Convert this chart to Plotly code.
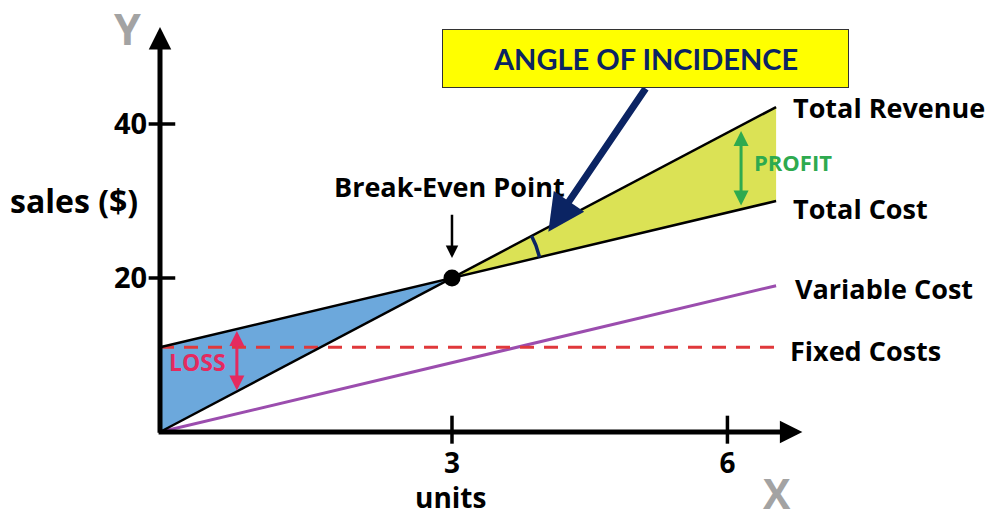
import numpy as np
import plotly.graph_objects as go

# break-even chart values (units, $)
units = [0, 3, 6.33]
revenue = [0, 20, 42.2]
total_cost = [11, 20, 30]
variable_cost = [0, 9, 19]
fixed_cost = [11, 11]

x_ticks = [3, 5.83]
x_ticklabels = ["3", "6"]
y_ticks = [20, 40]
y_ticklabels = ["20", "40"]

be_x, be_y = units[1], revenue[1]

FONT = "Open Sans"
NAVY = "#0B2463"

fig = go.Figure()

# loss area (blue) and profit area (yellow) between revenue and total cost
fig.add_trace(go.Scatter(
    x=units[:2] + units[:2][::-1],
    y=revenue[:2] + total_cost[:2][::-1],
    fill="toself", fillcolor="#6CA8DC",
    line=dict(width=0), mode="lines", hoverinfo="skip"
))
fig.add_trace(go.Scatter(
    x=units[1:] + units[1:][::-1],
    y=revenue[1:] + total_cost[1:][::-1],
    fill="toself", fillcolor="#DBE255",
    line=dict(width=0), mode="lines", hoverinfo="skip"
))

# lines
fig.add_trace(go.Scatter(x=units, y=variable_cost, mode="lines",
                         line=dict(color="#9B4DAE", width=3)))
fig.add_trace(go.Scatter(x=[units[0], units[-1]], y=fixed_cost, mode="lines",
                         line=dict(color="#E0383B", width=3, dash="14px,10px")))
fig.add_trace(go.Scatter(x=units, y=revenue, mode="lines",
                         line=dict(color="black", width=2.5)))
fig.add_trace(go.Scatter(x=units, y=total_cost, mode="lines",
                         line=dict(color="black", width=2.5)))

# angle arc at break-even point (pixel-space circle, radius ~90px)
sx, sy = 97.33, 7.7  # px per unit on each axis
a1 = np.arctan2((revenue[2] - be_y) * sy, (units[2] - be_x) * sx)
a2 = np.arctan2((total_cost[2] - be_y) * sy, (units[2] - be_x) * sx)
t = np.linspace(a2, a1, 20)
fig.add_trace(go.Scatter(x=be_x + 90 * np.cos(t) / sx, y=be_y + 90 * np.sin(t) / sy,
                         mode="lines", line=dict(color=NAVY, width=3.5)))

# break-even dot
fig.add_trace(go.Scatter(x=[be_x], y=[be_y], mode="markers",
                         marker=dict(color="black", size=17)))

# axis tick marks crossing the axes
fig.add_trace(go.Scatter(x=[0.02] * len(y_ticks), y=y_ticks, mode="markers",
                         marker=dict(symbol="line-ew", size=19,
                                     line=dict(color="black", width=3.5))))
fig.add_trace(go.Scatter(x=x_ticks, y=[0.3] * len(x_ticks), mode="markers",
                         marker=dict(symbol="line-ns", size=20,
                                     line=dict(color="black", width=3.5))))

anns = []

# axis arrows
anns.append(dict(x=0, y=52.6, ax=0, ay=-0.3, xref="x", yref="y", axref="x", ayref="y",
                 showarrow=True, arrowhead=2, arrowsize=0.9, arrowwidth=5,
                 arrowcolor="black", text=""))
anns.append(dict(x=6.6, y=0, ax=-0.03, ay=0, xref="x", yref="y", axref="x", ayref="y",
                 showarrow=True, arrowhead=2, arrowsize=0.9, arrowwidth=5,
                 arrowcolor="black", text=""))


def label(text, x, y, size=27, color="black", xanchor="left", **kw):
    anns.append(dict(text=text, x=x, y=y, xref="x", yref="y", showarrow=False,
                     xanchor=xanchor, yanchor="middle",
                     font=dict(family=FONT, size=size, color=color, weight="bold"), **kw))


label("Total Revenue", 6.48, 42.2)
label("Total Cost", 6.48, 29.0)
label("Variable Cost", 6.5, 18.7)
label("Fixed Costs", 6.45, 10.6)
label("Break-Even Point", 2.97, 31.9, size=27, xanchor="center")
label("sales ($)", -0.88, 30.1, size=32, xanchor="center")
label("units", 2.98, -8.4, size=28, xanchor="center")
label("Y", -0.33, 52.4, size=43, color="#A3A3A3", xanchor="center")
label("X", 6.34, -7.9, size=41, color="#A3A3A3", xanchor="center")
label("PROFIT", 6.08, 35.1, size=22, color="#2EAA4F")
label("LOSS", 0.07, 9.1, size=23, color="#E42A5F")

# break-even pointer
anns.append(dict(x=3, y=22.6, ax=3, ay=28.4, xref="x", yref="y", axref="x", ayref="y",
                 showarrow=True, arrowhead=2, arrowsize=1, arrowwidth=2.5,
                 arrowcolor="black", text=""))
# profit and loss double arrows
anns.append(dict(x=5.97, y=29.4, ax=5.97, ay=39.3, xref="x", yref="y", axref="x", ayref="y",
                 showarrow=True, arrowhead=2, arrowsize=1, arrowwidth=3, arrowside="end+start",
                 arrowcolor="#2EAA4F", text=""))
anns.append(dict(x=0.79, y=5.4, ax=0.79, ay=13.3, xref="x", yref="y", axref="x", ayref="y",
                 showarrow=True, arrowhead=2, arrowsize=1, arrowwidth=3, arrowside="end+start",
                 arrowcolor="#E42A5F", text=""))

# angle of incidence callout
anns.append(dict(x=3.99, y=26.0, ax=5.0, ay=44.8, xref="x", yref="y", axref="x", ayref="y",
                 showarrow=True, arrowhead=2, arrowsize=1.05, arrowwidth=7,
                 arrowcolor=NAVY, text=""))
anns.append(dict(text="ANGLE OF INCIDENCE", x=(443 + 848) / 2 / 994, y=1 - 58.5 / 517,
                 xref="paper", yref="paper", xanchor="center", yanchor="middle",
                 showarrow=False,
                 width=403, height=55, bgcolor="#FFFF00", bordercolor="#333333",
                 borderwidth=1, valign="middle",
                 font=dict(family="Lato", size=29, color=NAVY, weight="bold")))

fig.update_layout(
    width=994, height=517,
    margin=dict(l=0, r=0, t=0, b=0, autoexpand=False),
    plot_bgcolor="white", paper_bgcolor="white",
    showlegend=False,
    annotations=anns,
    xaxis=dict(range=[-160 / 97.33, 834 / 97.33], showgrid=False, zeroline=False,
               showline=False, tickvals=x_ticks, ticktext=x_ticklabels,
               ticks="outside", ticklen=6, tickcolor="rgba(0,0,0,0)",
               tickfont=dict(family=FONT, size=28, color="black", weight="bold"),
               anchor="free", position=85 / 517, fixedrange=True, automargin=False),
    yaxis=dict(range=[-85 / 7.7, 432 / 7.7], showgrid=False, zeroline=False,
               showline=False, tickvals=y_ticks, ticktext=y_ticklabels,
               ticks="outside", ticklen=7, tickcolor="rgba(0,0,0,0)",
               tickfont=dict(family=FONT, size=29, color="black", weight="bold"),
               anchor="free", position=160 / 994, fixedrange=True, automargin=False),
)

# drop the page's default body margin so the chart fills the window
fig.write_html("out.html", config={"displayModeBar": False},
               post_script="document.body.style.margin = '0';")
